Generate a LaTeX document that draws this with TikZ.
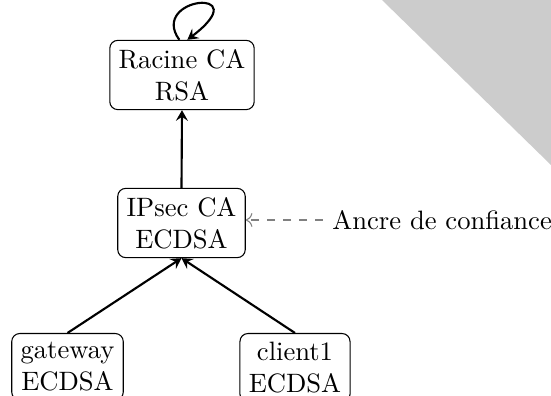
\documentclass[tikz,border=0pt]{standalone}
\usetikzlibrary{arrows.meta}
\begin{document}
\begin{tikzpicture}[x=0.376pt,y=-0.376pt,
  cabox/.style={draw,rounded corners=3pt,align=center,inner sep=3.33pt},
  certarrow/.style={-{Stealth[length=4pt,width=4.5pt,inset=1.5pt]},thick},
  trustarrow/.style={->,dashed,gray}]
\useasboundingbox (0,0) rectangle (551,396);
\fill[gray!40] (382,0) -- (551,0) -- (551,165) -- cycle;
\node[cabox] (racine) at (182,75) {Racine CA\\RSA};
\node[cabox] (ipsec) at (181.5,223) {IPsec CA\\ECDSA};
\node[cabox,anchor=north] (gw) at (67.5,333) {gateway\\ECDSA};
\node[cabox,anchor=north] (cl) at (295,333) {client1\\ECDSA};
\node[anchor=west,inner sep=3.33pt] (ancre) at (323,220) {Ancre de confiance};
\draw[certarrow] (ipsec.north) -- (racine.south);
\draw[certarrow] (gw.north) -- (ipsec.south);
\draw[certarrow] (cl.north) -- (ipsec.south);
\draw[trustarrow] (ancre.west) -- (ipsec.east |- ancre.west);
\draw[certarrow] ([xshift=-1]racine.north) .. controls +(-31,-43) and +(71,-54) .. ([xshift=2]racine.north);
\end{tikzpicture}
\end{document}
